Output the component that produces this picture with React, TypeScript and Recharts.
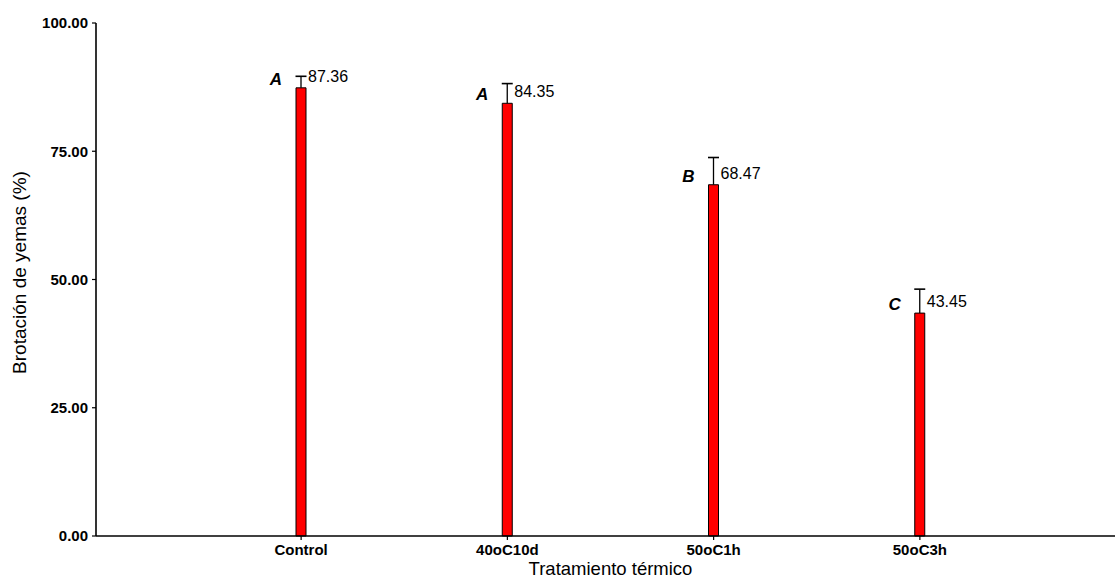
import React from 'react';
import { BarChart, Bar, XAxis, YAxis, LabelList, Label } from 'recharts';

const categories = ['Control', '40oC10d', '50oC1h', '50oC3h'];
const means = [87.36, 84.35, 68.47, 43.45];
const errUpper = [2.25, 3.84, 5.31, 4.67];
const letters = ['A', 'A', 'B', 'C'];
const yTicks = [0, 25, 50, 75, 100];

const data = categories.map((c, i) => ({
  name: c,
  value: means[i],
  err: errUpper[i],
  letter: letters[i],
  valueText: means[i].toFixed(2),
}));

const FONT = '"Liberation Sans", Arial, sans-serif';

const renderErr = (props: any) => {
  const { x, y, width, height, value, index } = props;
  const cx = Number(x) + Number(width) / 2;
  const pxPerUnit = Number(height) / means[index];
  const top = Number(y) - Number(value) * pxPerUnit;
  return (
    <g>
      <line x1={cx} y1={Number(y)} x2={cx} y2={top} stroke="#000" strokeWidth={1.3} />
      <line x1={cx - 5.5} y1={top} x2={cx + 5.5} y2={top} stroke="#000" strokeWidth={1.6} />
    </g>
  );
};

const renderLetter = (props: any) => {
  const { x, y, width, value } = props;
  const cx = Number(x) + Number(width) / 2;
  return (
    <text x={cx - 25} y={Number(y) - 3} textAnchor="middle" fontFamily={FONT} fontSize={17} fontWeight="bold" fontStyle="italic" fill="#000">
      {value}
    </text>
  );
};

const renderValue = (props: any) => {
  const { x, y, width, value } = props;
  const cx = Number(x) + Number(width) / 2;
  return (
    <text x={cx + 7} y={Number(y) - 6} textAnchor="start" fontFamily={FONT} fontSize={16} fill="#000">
      {value}
    </text>
  );
};

const renderXTitle = (props: any) => {
  const vb = props.viewBox || {};
  return (
    <text x={vb.x + vb.width / 2 + 5} y={vb.y + vb.height - 4} textAnchor="middle" fontFamily={FONT} fontSize={18.5} fill="#000">
      Tratamiento térmico
    </text>
  );
};

const renderYTitle = (props: any) => {
  const vb = props.viewBox || {};
  const cx = vb.x + 26;
  const cy = vb.y + vb.height / 2 - 7;
  return (
    <text transform={`translate(${cx}, ${cy}) rotate(-90)`} textAnchor="middle" fontFamily={FONT} fontSize={19} fill="#000">
      Brotación de yemas (%)
    </text>
  );
};

export default function App() {
  return (
    <div style={{ position: 'absolute', left: 0, top: 0, background: '#fff' }}>
      <BarChart width={1115} height={579} data={data} margin={{ top: 23, right: 0, bottom: 0, left: 0 }}>
        <XAxis
          dataKey="name"
          height={43}
          padding={{ left: 102, right: 92 }}
          axisLine={{ stroke: '#000', strokeWidth: 1.6 }}
          tickLine={{ stroke: '#000', strokeWidth: 1.2 }}
          tickSize={4}
          tickMargin={4}
          tick={{ fill: '#000', fontFamily: FONT, fontSize: 15, fontWeight: 'bold' }}
          interval={0}
        >
          <Label content={renderXTitle} />
        </XAxis>
        <YAxis
          width={96}
          domain={[0, 100]}
          ticks={yTicks}
          tickFormatter={(v: number) => v.toFixed(2)}
          axisLine={{ stroke: '#000', strokeWidth: 1.6 }}
          tickLine={{ stroke: '#000', strokeWidth: 1.2 }}
          tickSize={4}
          tickMargin={4}
          tick={{ fill: '#000', fontFamily: FONT, fontSize: 15, fontWeight: 'bold' }}
          interval={0}
        >
          <Label content={renderYTitle} />
        </YAxis>
        <Bar dataKey="value" fill="#ff0000" stroke="#000" strokeWidth={1} barSize={10} isAnimationActive={false}>
          <LabelList dataKey="err" content={renderErr} />
          <LabelList dataKey="letter" content={renderLetter} />
          <LabelList dataKey="valueText" content={renderValue} />
        </Bar>
      </BarChart>
    </div>
  );
}
